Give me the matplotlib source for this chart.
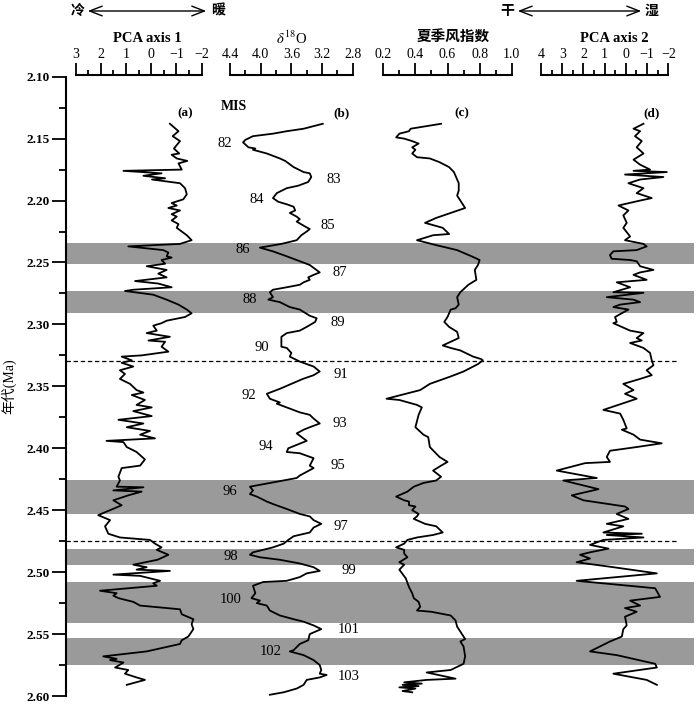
import matplotlib
matplotlib.use("Agg")
import matplotlib.pyplot as plt
from matplotlib.patches import FancyArrowPatch
from matplotlib.ticker import MultipleLocator

plt.rcParams['font.family'] = ['Liberation Serif', 'Noto Sans CJK SC']
plt.rcParams['mathtext.fontset'] = 'stix'
plt.rcParams['axes.unicode_minus'] = True

# ---- data (age in Ma) ----
# (a) PCA axis 1
age_a = [2.138, 2.144, 2.148, 2.152, 2.158, 2.162, 2.163, 2.166, 2.168, 2.170,
         2.175, 2.176, 2.178, 2.180, 2.182, 2.183, 2.186, 2.190, 2.195, 2.199,
         2.202, 2.204, 2.206, 2.208, 2.211, 2.213, 2.216, 2.219, 2.222, 2.228,
         2.232, 2.235, 2.237, 2.240, 2.242, 2.245, 2.246, 2.248, 2.251, 2.253,
         2.256, 2.259, 2.262, 2.265, 2.267, 2.270, 2.272, 2.273, 2.276, 2.280,
         2.284, 2.288, 2.291, 2.294, 2.297, 2.299, 2.301, 2.305, 2.307, 2.310,
         2.313, 2.314, 2.318, 2.322, 2.325, 2.326, 2.329, 2.331, 2.334, 2.337,
         2.340, 2.344, 2.348, 2.353, 2.355, 2.357, 2.361, 2.365, 2.367, 2.370,
         2.374, 2.377, 2.380, 2.383, 2.386, 2.389, 2.392, 2.394, 2.395, 2.399,
         2.403, 2.409, 2.414, 2.416, 2.423, 2.426, 2.431, 2.4315, 2.434, 2.435,
         2.438, 2.442, 2.446, 2.454, 2.458, 2.463, 2.469, 2.472, 2.474, 2.477,
         2.480, 2.482, 2.486, 2.490, 2.494, 2.496, 2.498, 2.499, 2.502, 2.503,
         2.505, 2.507, 2.509, 2.511, 2.515, 2.517, 2.519, 2.521, 2.524, 2.527,
         2.530, 2.534, 2.538, 2.542, 2.546, 2.552, 2.555, 2.558, 2.564, 2.568,
         2.570, 2.571, 2.573, 2.577, 2.579, 2.582, 2.585, 2.587, 2.591]
pca1 = [-0.74, -1.08, -0.85, -1.14, -0.90, -1.11, -0.81, -1.01, -1.43, -1.08,
        -1.21, 1.10, -0.41, 0.31, -0.55, -0.03, -1.14, -1.34, -1.41, -1.27,
        -0.81, -1.01, -0.68, -1.14, -0.81, -1.01, -0.81, -1.08, -1.01, -1.41,
        -1.60, -1.14, 0.91, -0.48, -0.68, -0.61, -0.81, -0.41, -0.55, 0.18,
        -0.61, -0.28, -0.61, 0.64, -0.28, -0.81, 0.71, 1.04, -0.08, -0.61,
        -1.08, -1.41, -1.60, -1.34, -0.61, -0.41, -0.08, -0.22, 0.18, -0.74,
        0.11, -0.55, -0.41, -0.68, 0.38, 1.17, 0.77, 1.17, 0.71, 1.24,
        1.04, 1.24, 0.84, 0.58, 0.31, 0.77, 0.25, 0.58, -0.02, 0.71,
        -0.02, 1.30, 0.31, 0.97, 0.05, 0.44, -0.15, 1.77, 1.10, 0.97,
        0.58, 0.25, 0.44, 1.17, 1.30, 1.24, 1.37, 0.31, 1.50, 0.38,
        0.91, 1.50, 1.17, 2.10, 1.63, 1.83, 1.70, 1.24, 0.05, -0.15,
        -0.41, -0.22, -0.68, -0.25, 0.71, 0.18, 0.58, -0.74, 1.50, 0.44,
        0.05, -0.35, -0.08, -0.22, 2.03, 1.37, 1.50, 1.30, 0.71, 0.44,
        -1.14, -1.21, -1.67, -1.60, -1.67, -1.47, -1.21, -1.14, 0.18, 1.90,
        1.37, 1.63, 1.10, 1.43, 0.91, 1.04, 0.58, 0.25, 0.97]

# (b) delta 18O
age_b = [2.138, 2.142, 2.144, 2.146, 2.148, 2.151, 2.153, 2.157, 2.158, 2.159,
         2.162, 2.166, 2.168, 2.173, 2.177, 2.178, 2.181, 2.185, 2.188, 2.190,
         2.194, 2.198, 2.201, 2.203, 2.205, 2.208, 2.210, 2.213, 2.215, 2.217,
         2.221, 2.223, 2.225, 2.228, 2.232, 2.235, 2.238, 2.241, 2.245, 2.249,
         2.252, 2.258, 2.260, 2.262, 2.264, 2.266, 2.268, 2.270, 2.272, 2.274,
         2.278, 2.280, 2.282, 2.286, 2.288, 2.293, 2.295, 2.298, 2.302, 2.305,
         2.307, 2.310, 2.318, 2.319, 2.323, 2.326, 2.330, 2.334, 2.338, 2.341,
         2.344, 2.348, 2.352, 2.356, 2.360, 2.363, 2.364, 2.368, 2.371, 2.373,
         2.376, 2.380, 2.383, 2.385, 2.388, 2.394, 2.400, 2.403, 2.404, 2.408,
         2.414, 2.416, 2.422, 2.424, 2.431, 2.434, 2.437, 2.439, 2.443, 2.445,
         2.447, 2.449, 2.453, 2.455, 2.458, 2.461, 2.464, 2.468, 2.471, 2.474,
         2.477, 2.480, 2.484, 2.486, 2.488, 2.490, 2.493, 2.496, 2.499, 2.501,
         2.504, 2.507, 2.508, 2.511, 2.517, 2.521, 2.523, 2.525, 2.527, 2.531,
         2.535, 2.538, 2.540, 2.543, 2.546, 2.550, 2.555, 2.558, 2.563, 2.564,
         2.567, 2.571, 2.575, 2.579, 2.582, 2.583, 2.585, 2.587, 2.591, 2.594,
         2.597, 2.599]
d18o = [3.19, 3.44, 3.66, 3.84, 4.10, 4.20, 4.23, 4.16, 4.07, 4.10,
        3.92, 3.75, 3.68, 3.57, 3.44, 3.36, 3.34, 3.38, 3.51, 3.66,
        3.79, 3.84, 3.77, 3.66, 3.57, 3.55, 3.62, 3.53, 3.49, 3.53,
        3.42, 3.36, 3.40, 3.47, 3.53, 3.73, 4.01, 3.84, 3.66, 3.49,
        3.36, 3.23, 3.31, 3.38, 3.36, 3.44, 3.49, 3.66, 3.84, 3.88,
        3.84, 3.90, 3.75, 3.62, 3.49, 3.36, 3.27, 3.29, 3.40, 3.49,
        3.66, 3.73, 3.73, 3.66, 3.60, 3.62, 3.49, 3.31, 3.23, 3.31,
        3.45, 3.60, 3.75, 3.92, 3.88, 3.75, 3.79, 3.62, 3.49, 3.36,
        3.31, 3.23, 3.36, 3.44, 3.53, 3.40, 3.64, 3.66, 3.49, 3.31,
        3.36, 3.31, 3.49, 3.53, 4.14, 4.10, 4.14, 4.05, 3.92, 3.84,
        3.75, 3.66, 3.49, 3.36, 3.31, 3.21, 3.31, 3.36, 3.57, 3.64,
        3.70, 3.84, 4.10, 4.14, 4.01, 3.75, 3.49, 3.31, 3.23, 3.40,
        3.49, 3.66, 3.97, 4.10, 4.07, 4.12, 4.01, 4.05, 3.92, 3.88,
        3.75, 3.57, 3.44, 3.31, 3.21, 3.36, 3.38, 3.49, 3.57, 3.62,
        3.44, 3.31, 3.23, 3.21, 3.23, 3.14, 3.23, 3.40, 3.44, 3.53,
        3.70, 3.88]

# (c) summer monsoon index
age_c = [2.138, 2.142, 2.144, 2.146, 2.149, 2.150, 2.152, 2.154, 2.157, 2.159,
         2.162, 2.165, 2.166, 2.169, 2.173, 2.177, 2.186, 2.192, 2.196, 2.200,
         2.206, 2.210, 2.214, 2.218, 2.222, 2.227, 2.228, 2.232, 2.236, 2.240,
         2.245, 2.248, 2.252, 2.256, 2.264, 2.268, 2.274, 2.278, 2.284, 2.287,
         2.288, 2.294, 2.298, 2.302, 2.306, 2.311, 2.317, 2.319, 2.321, 2.326,
         2.328, 2.329, 2.332, 2.338, 2.342, 2.348, 2.353, 2.360, 2.361, 2.365,
         2.367, 2.373, 2.383, 2.389, 2.391, 2.399, 2.403, 2.407, 2.411, 2.414,
         2.418, 2.423, 2.426, 2.428, 2.431, 2.435, 2.439, 2.442, 2.443, 2.446,
         2.447, 2.450, 2.453, 2.455, 2.457, 2.461, 2.463, 2.468, 2.470, 2.472,
         2.474, 2.477, 2.480, 2.482, 2.485, 2.488, 2.492, 2.494, 2.498, 2.505,
         2.512, 2.517, 2.521, 2.524, 2.528, 2.531, 2.532, 2.535, 2.539, 2.544,
         2.554, 2.556, 2.560, 2.568, 2.574, 2.579, 2.581, 2.586, 2.587, 2.589,
         2.590, 2.591, 2.592, 2.593, 2.594, 2.596, 2.597]
monsoon = [0.56, 0.37, 0.36, 0.30, 0.28, 0.33, 0.38, 0.42, 0.38, 0.40,
           0.38, 0.41, 0.49, 0.55, 0.61, 0.64, 0.67, 0.67, 0.66, 0.68,
           0.71, 0.62, 0.53, 0.46, 0.57, 0.61, 0.51, 0.41, 0.53, 0.66,
           0.75, 0.80, 0.79, 0.77, 0.78, 0.73, 0.68, 0.66, 0.67, 0.65,
           0.62, 0.60, 0.58, 0.61, 0.66, 0.67, 0.57, 0.62, 0.68, 0.76,
           0.81, 0.82, 0.79, 0.70, 0.62, 0.49, 0.43, 0.22, 0.30, 0.41,
           0.44, 0.42, 0.40, 0.45, 0.48, 0.49, 0.52, 0.55, 0.60, 0.56,
           0.51, 0.56, 0.53, 0.45, 0.39, 0.35, 0.28, 0.33, 0.36, 0.36,
           0.40, 0.38, 0.42, 0.41, 0.39, 0.46, 0.53, 0.57, 0.51, 0.41,
           0.35, 0.33, 0.28, 0.33, 0.33, 0.35, 0.30, 0.33, 0.30, 0.34,
           0.36, 0.38, 0.39, 0.42, 0.43, 0.41, 0.50, 0.62, 0.65, 0.66,
           0.71, 0.68, 0.70, 0.71, 0.70, 0.62, 0.47, 0.65, 0.47, 0.33,
           0.44, 0.32, 0.42, 0.30, 0.40, 0.32, 0.38]

# (d) PCA axis 2
age_d = [2.138, 2.142, 2.144, 2.148, 2.152, 2.157, 2.162, 2.167, 2.171, 2.175,
         2.176, 2.177, 2.179, 2.181, 2.183, 2.186, 2.190, 2.194, 2.198, 2.200,
         2.204, 2.208, 2.212, 2.218, 2.222, 2.229, 2.232, 2.235, 2.237, 2.240,
         2.241, 2.244, 2.247, 2.248, 2.249, 2.253, 2.256, 2.258, 2.260, 2.264,
         2.266, 2.270, 2.274, 2.2745, 2.278, 2.280, 2.282, 2.284, 2.286, 2.288,
         2.294, 2.298, 2.299, 2.305, 2.307, 2.311, 2.313, 2.315, 2.319, 2.323,
         2.329, 2.333, 2.337, 2.341, 2.344, 2.348, 2.353, 2.356, 2.360, 2.369,
         2.372, 2.377, 2.384, 2.385, 2.389, 2.393, 2.396, 2.399, 2.402, 2.407,
         2.411, 2.412, 2.418, 2.424, 2.426, 2.433, 2.438, 2.442, 2.447, 2.449,
         2.453, 2.457, 2.461, 2.463, 2.468, 2.469, 2.470, 2.472, 2.474, 2.478,
         2.481, 2.484, 2.486, 2.489, 2.492, 2.496, 2.501, 2.507, 2.513, 2.520,
         2.523, 2.527, 2.529, 2.532, 2.536, 2.543, 2.546, 2.552, 2.556, 2.564,
         2.567, 2.574, 2.577, 2.582, 2.587, 2.591]
pca2 = [-0.83, -0.36, -0.67, -0.43, -0.75, -0.51, -0.83, -0.36, -0.67, -1.14,
        -0.36, -1.93, 0.04, -1.77, -0.67, -0.12, -0.83, -0.51, -1.22, -0.67,
        0.35, -0.12, 0.12, -0.04, 0.12, -0.20, 0.04, -0.83, -0.98, -0.51,
        0.59, 0.75, 0.67, -0.20, -0.51, -0.67, -1.30, -0.67, -0.36, -0.98,
        0.43, -0.20, 0.59, -0.83, 0.90, -0.36, -0.67, 0.27, 0.59, -0.12,
        0.51, 0.43, 0.59, -0.20, -0.83, -0.51, -0.75, -0.20, -0.83, -1.14,
        -1.22, -1.30, -0.98, -1.22, -0.67, 0.12, -0.36, 0.04, -0.51, 1.06,
        0.27, 0.12, -0.04, 0.19, -0.36, -0.67, -1.69, -0.51, 0.75, 0.90,
        0.75, 1.92, 3.26, 1.37, 2.95, 1.29, 2.55, 2.00, 0.04, -0.12,
        0.43, -0.12, 0.90, 0.12, 1.06, -0.75, 0.90, -0.83, 1.06, 1.69,
        0.82, 1.69, 2.16, 1.69, 2.32, 0.59, -1.46, 2.32, -1.38, -1.61,
        -0.20, -0.67, 0.04, -0.51, 0.04, -0.04, 0.12, 0.19, 0.75, 1.69,
        0.43, -1.38, -1.46, 0.59, -0.98, -1.46]

# shaded intervals and dashed boundaries (Ma)
band_top = [2.234, 2.273, 2.426, 2.4815, 2.508, 2.553]
band_bottom = [2.251, 2.291, 2.453, 2.494, 2.541, 2.575]
dashed_ages = [2.3295, 2.4748]

# MIS labels, placed beside the d18O curve
mis_labels = ['82', '83', '84', '85', '86', '87', '88', '89', '90', '91', '92',
              '93', '94', '95', '96', '97', '98', '99', '100', '101', '102', '103']
mis_age = [2.1538, 2.1834, 2.1990, 2.2198, 2.2392, 2.2580, 2.2795, 2.2984,
           2.3186, 2.3404, 2.3571, 2.3800, 2.3989, 2.4137, 2.4352, 2.4635,
           2.4872, 2.4985, 2.5219, 2.5464, 2.5644, 2.5846]
mis_x = [4.465, 3.05, 4.05, 3.12, 4.23, 2.97, 4.14, 3.00, 3.99, 2.95, 4.16,
         2.97, 3.93, 2.99, 4.40, 2.95, 4.39, 2.85, 4.39, 2.85, 3.87, 2.85]

W, H = 700, 708


def fx(px):
    return px / W


def fy(py):
    return 1 - py / H


fig = plt.figure(figsize=(7, 7.08), dpi=100)

y_top, y_bot = 76.7, 696.0
bottom = fy(y_bot)
height = fy(y_top) - bottom

# main axis with age scale
ax = fig.add_axes([fx(66), bottom, fx(694) - fx(66), height])
ax.set_ylim(2.60, 2.10)
ax.set_xlim(0, 1)
for s in ['top', 'right', 'bottom']:
    ax.spines[s].set_visible(False)
ax.spines['left'].set_linewidth(1.5)
ax.set_xticks([])
ax.yaxis.set_major_locator(MultipleLocator(0.05))
ax.yaxis.set_minor_locator(MultipleLocator(0.025))
ax.yaxis.set_major_formatter(plt.FormatStrFormatter('%.2f'))
ax.tick_params(axis='y', which='major', length=10, width=1.3, pad=1.5,
               labelsize=9.5)
ax.tick_params(axis='y', which='minor', length=5, width=1.3)
for lab in ax.get_yticklabels():
    lab.set_fontweight('bold')

for t0, t1 in zip(band_top, band_bottom):
    ax.axhspan(t0, t1, xmin=0, xmax=1, color='#9a9a9a', lw=0, zorder=0)
dash_end = (678 - 66) / (694 - 66)
for t in dashed_ages:
    ax.axhline(t, xmin=0, xmax=dash_end, color='black', lw=0.9,
               ls=(0, (3.5, 2.2)), zorder=1)

fig.text(fx(9), fy(386), '年代(Ma)', rotation=90, ha='center', va='center',
         fontsize=10)

# one panel per curve, each with its own top scale
panels = [
    dict(px=(75.5, 201.7), lim=(3, -2), major=[3, 2, 1, 0, -1, -2],
         labels=['3', '2', '1', '0', '\u22121', '\u22122'], minor=0.5,
         age=age_a, val=pca1),
    dict(px=(230, 352.7), lim=(4.4, 2.8), major=[4.4, 4.0, 3.6, 3.2, 2.8],
         labels=['4.4', '4.0', '3.6', '3.2', '2.8'], minor=0.2,
         age=age_b, val=d18o),
    dict(px=(383.3, 511.7), lim=(0.2, 1.0), major=[0.2, 0.4, 0.6, 0.8, 1.0],
         labels=['0.2', '0.4', '0.6', '0.8', '1.0'], minor=0.1,
         age=age_c, val=monsoon),
    dict(px=(541, 668.3), lim=(4, -2), major=[4, 3, 2, 1, 0, -1, -2],
         labels=['4', '3', '2', '1', '0', '\u22121', '\u22122'], minor=0.5,
         age=age_d, val=pca2),
]

sub_axes = []
for p in panels:
    x0, x1 = p['px']
    a = fig.add_axes([fx(x0), bottom, fx(x1) - fx(x0), height])
    a.set_facecolor('none')
    a.set_xlim(*p['lim'])
    a.set_ylim(2.60, 2.10)
    for s in ['left', 'right', 'bottom']:
        a.spines[s].set_visible(False)
    a.spines['top'].set_linewidth(1.5)
    a.spines['top'].set_position(('outward', 1.2))
    a.set_yticks([])
    a.xaxis.set_ticks_position('top')
    a.set_xticks(p['major'])
    a.set_xticklabels(p['labels'])
    a.xaxis.set_minor_locator(MultipleLocator(p['minor']))
    a.tick_params(axis='x', which='major', direction='out', length=8.5,
                  width=1.3, pad=1.5, labelsize=10)
    a.tick_params(axis='x', which='minor', direction='out', length=3.8,
                  width=1.3)
    a.plot(p['val'], p['age'], color='black', lw=1.3, clip_on=False)
    sub_axes.append(a)

ax_b = sub_axes[1]
for lab, t, x in zip(mis_labels, mis_age, mis_x):
    ax_b.text(x, t, lab, ha='center', va='center', fontsize=10.5,
              clip_on=False)

# titles above the scales
fig.text(fx(147), fy(38), 'PCA axis 1', ha='center', va='center',
         fontsize=10.5, fontweight='bold')
fig.text(fx(292), fy(38), r'$\delta^{18}$O', ha='center', va='center',
         fontsize=10.5)
fig.text(fx(453), fy(38), '夏季风指数', ha='center', va='center',
         fontsize=10.5, fontweight='bold')
fig.text(fx(614), fy(38), 'PCA axis 2', ha='center', va='center',
         fontsize=10.5, fontweight='bold')

# panel letters and MIS header
for s, x in [('(a)', 185), ('(b)', 341), ('(c)', 462), ('(d)', 652)]:
    fig.text(fx(x), fy(113), s, ha='center', va='center', fontsize=9.5,
             fontweight='bold')
fig.text(fx(234), fy(106), 'MIS', ha='center', va='center', fontsize=10,
         fontweight='bold')

# direction arrows
for left, right, x_l, x_r, a0, a1 in [('冷', '暖', 78, 218, 85, 209),
                                      ('干', '湿', 507, 652, 515, 644)]:
    fig.text(fx(x_l), fy(11), left, ha='center', va='center', fontsize=10,
             fontweight='bold')
    fig.text(fx(x_r), fy(11), right, ha='center', va='center', fontsize=10,
             fontweight='bold')
    arr = FancyArrowPatch((fx(a0), fy(11)), (fx(a1), fy(11)),
                          transform=fig.transFigure,
                          arrowstyle='<->,head_length=0.9,head_width=0.35',
                          mutation_scale=10, lw=1.0, color='black')
    fig.patches.append(arr)

fig.savefig('out.png', dpi=100)
